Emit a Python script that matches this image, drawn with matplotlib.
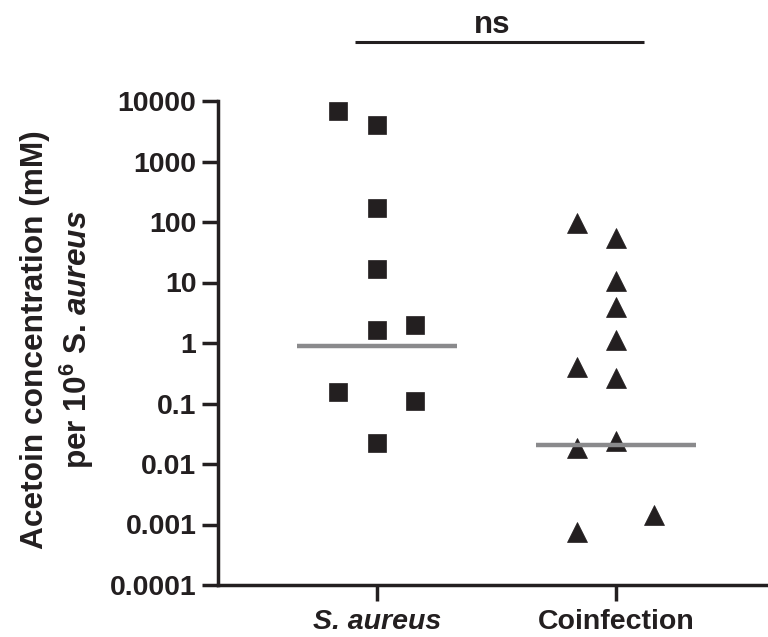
import numpy as np
import matplotlib
matplotlib.use("Agg")
import matplotlib.pyplot as plt
from matplotlib.ticker import FixedLocator, NullLocator

plt.rcParams['font.family'] = ['Liberation Sans', 'DejaVu Sans']
plt.rcParams['font.weight'] = 'bold'
plt.rcParams['mathtext.fontset'] = 'custom'
plt.rcParams['mathtext.rm'] = 'Liberation Sans:bold'
plt.rcParams['mathtext.it'] = 'Liberation Sans:bold:italic'
plt.rcParams['mathtext.bf'] = 'Liberation Sans:bold'

# ---- data ----
categories = ["S. aureus", "Coinfection"]
sa_values = [6730, 3940, 169, 17, 1.64, 2.0, 0.155, 0.11, 0.0224]
co_values = [95, 55, 10.7, 3.9, 1.13, 0.40, 0.26, 0.024, 0.0186, 0.00145, 0.00076]
center_lines = [0.89, 0.021]
y_ticks = [0.0001, 0.001, 0.01, 0.1, 1, 10, 100, 1000, 10000]
y_ticklabels = ["0.0001", "0.001", "0.01", "0.1", "1", "10", "100", "1000", "10000"]
sig_label = "ns"

# ---- layout (scatter offsets within each column) ----
sa_offsets = [-1, 0, 0, 0, 0, 1, -1, 1, 0]
co_offsets = [-1, 0, 0, 0, 0, -1, 0, 0, -1, 1, -1]
step = 0.161

dark = '#231f20'
grey = '#8a8a8c'

fig = plt.figure(figsize=(7.68, 6.37), dpi=100)
ax = fig.add_axes([218/768, 52/637, 550/768, 484/637])

ax.plot([0 + o*step for o in sa_offsets], sa_values, linestyle='none', marker='s',
        ms=13.5, color=dark, mec=dark, mew=0.5, zorder=3)
ax.plot([1 + o*step for o in co_offsets], co_values, linestyle='none', marker='^',
        ms=14, color=dark, mec=dark, mew=0.5, zorder=3)

for i, c in enumerate(center_lines):
    ax.plot([i - 0.335, i + 0.335], [c, c], color=grey, lw=3.2, solid_capstyle='butt', zorder=4)

ax.set_yscale('log')
ax.set_ylim(1e-4, 1e4)
ax.set_xlim(-0.665, 1.636)
ax.yaxis.set_major_locator(FixedLocator(y_ticks))
ax.yaxis.set_minor_locator(NullLocator())
ax.set_yticklabels(y_ticklabels)
ax.set_xticks([0, 1])
ax.set_xticklabels(categories)
ax.get_xticklabels()[0].set_fontstyle('italic')

for s in ['top', 'right']:
    ax.spines[s].set_visible(False)
for s in ['left', 'bottom']:
    ax.spines[s].set_linewidth(2.5)
    ax.spines[s].set_color(dark)
    ax.spines[s].set_capstyle('projecting')

ax.tick_params(axis='both', which='major', length=11.5, width=2.5, color=dark,
               labelsize=20.5, labelcolor=dark)
ax.tick_params(axis='y', pad=4)
ax.tick_params(axis='x', pad=6)
for lab in ax.get_xticklabels() + ax.get_yticklabels():
    lab.set_fontweight('bold')

ax.set_ylabel("Acetoin concentration (mM)\nper 10$^{6}$ S. $\\mathit{aureus}$",
              fontsize=22.8, fontweight='bold', color=dark, linespacing=1.25)
ax.yaxis.set_label_coords(-0.222, 0.506)

# significance bar
tr = ax.get_xaxis_transform()
ax.plot([-0.092, 1.117], [1.122, 1.122], transform=tr, color=dark, lw=2.2,
        clip_on=False, solid_capstyle='butt')
ax.text(0.481, 1.140, sig_label, transform=tr, ha='center', va='baseline',
        fontsize=22.5, fontweight='bold', color=dark)

fig.savefig("out.png", dpi=100)
